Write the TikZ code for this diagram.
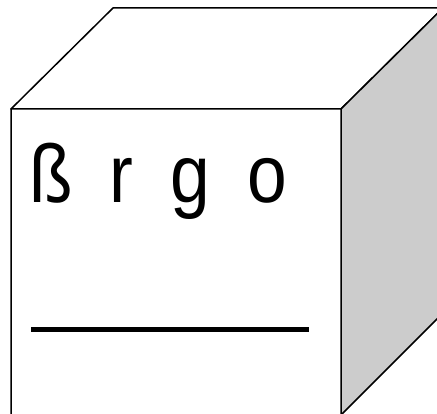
\documentclass[tikz,border=0pt]{standalone}
\usepackage{fontspec}
\setmainfont{Liberation Sans}[FakeStretch=0.87]
\definecolor{CuboF}{RGB}{0,0,0}
\definecolor{CuboLado}{RGB}{204,204,204}

\begin{document}
\begin{tikzpicture}[x=1pt,y=-1pt,line join=round,every node/.style={inner sep=0pt}]
\useasboundingbox(0,0)rectangle(437,414);
\clip(0,0)rectangle(437,414);
\coordinate(fa)at(11,109);\coordinate(fb)at(341,109);
\coordinate(fc)at(341,415);\coordinate(fd)at(11,430);
\coordinate(ta)at(113,8);\coordinate(tb)at(443,8);\coordinate(tc)at(443,313);
\draw[CuboF,line width=1.5pt,fill=white](fa)--(ta)--(tb)--(fb)--cycle;
\draw[CuboF,line width=1.5pt,fill=CuboLado](fb)--(tb)--(tc)--(fc)--cycle;
\draw[CuboF,line width=1.5pt,fill=white](fa)--(fb)--(fc)--(fd)--cycle;
\node[anchor=base west,font=\fontsize{82}{82}\selectfont](rotulo)at(29,203){\spaceskip=37pt\relax ß r g o};
\coordinate(la)at(31,329.5);\coordinate(lb)at(309,329.5);
\draw[CuboF,line width=5pt](la)--(lb);
\end{tikzpicture}
\end{document}
